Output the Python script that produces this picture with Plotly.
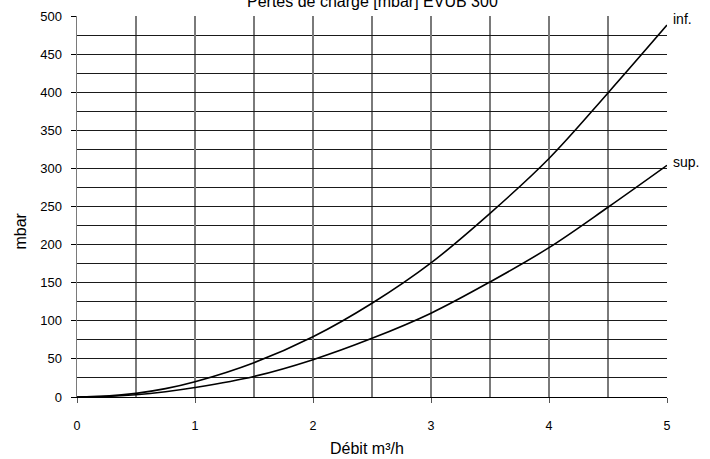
import plotly.graph_objects as go

flow = [0, 0.25, 0.5, 0.75, 1.0, 1.5, 2.0, 2.5, 3.0, 3.5, 4.0, 4.5, 5.0]
inf_mbar = [0, 1.2, 4.8, 11, 20, 45, 79, 123, 176, 241, 313, 399, 488]
sup_mbar = [0, 0.8, 3, 7, 12.5, 27, 49, 77, 110, 151, 196, 249, 304]

x_ticks = [0, 1, 2, 3, 4, 5]
y_ticks = [0, 50, 100, 150, 200, 250, 300, 350, 400, 450, 500]

FONT = "Liberation Sans, Arial, sans-serif"

fig = go.Figure()
fig.add_trace(go.Scatter(x=flow, y=inf_mbar, mode="lines", line=dict(color="black", width=1.6, shape="spline"), showlegend=False, hoverinfo="skip"))
fig.add_trace(go.Scatter(x=flow, y=sup_mbar, mode="lines", line=dict(color="black", width=1.6, shape="spline"), showlegend=False, hoverinfo="skip"))

fig.update_layout(
    width=710, height=459,
    margin=dict(l=77, r=43, t=16, b=62),
    paper_bgcolor="white", plot_bgcolor="white",
    font=dict(family=FONT, color="black", size=12),
    xaxis=dict(range=[0, 5], tickvals=x_ticks, ticks="outside", ticklen=5, tickcolor="#555",
               showgrid=True, gridcolor="#7a7a7a", gridwidth=1.5,
               minor=dict(dtick=0.5, showgrid=True, gridcolor="#7a7a7a", gridwidth=1.5),
               zeroline=False, showline=True, linecolor="black", linewidth=1, mirror=False,
               tickfont=dict(size=12.5), ticklabelstandoff=12, automargin=False),
    yaxis=dict(range=[0, 500], tickvals=y_ticks, ticks="outside", ticklen=5, tickcolor="black",
               showgrid=True, gridcolor="#1a1a1a", gridwidth=1,
               minor=dict(dtick=25, showgrid=True, gridcolor="#1a1a1a", gridwidth=1),
               zeroline=False, showline=True, linecolor="#7a7a7a", linewidth=1.5, mirror=False,
               tickfont=dict(size=13), ticklabelstandoff=6, automargin=False),
)

fig.add_annotation(text="Pertes de charge [mbar] EVUB 300", xref="paper", yref="paper",
                   x=0.5, y=1, yshift=15, xanchor="center", yanchor="middle",
                   showarrow=False, font=dict(size=16, family=FONT))
fig.add_annotation(text="mbar", xref="paper", yref="paper", x=0, y=0.5,
                   xshift=-57, yshift=-25, textangle=-90, xanchor="center", yanchor="middle",
                   showarrow=False, font=dict(size=16, family=FONT))
fig.add_annotation(text="Débit m³/h", xref="paper", yref="paper", x=0.5, y=0,
                   xshift=-5, yshift=-51, xanchor="center", yanchor="middle",
                   showarrow=False, font=dict(size=16, family=FONT))
fig.add_annotation(text="inf.", x=flow[-1], y=inf_mbar[-1], xanchor="left", yanchor="middle",
                   xshift=4, yshift=6, showarrow=False, font=dict(size=14, family=FONT))
fig.add_annotation(text="sup.", x=flow[-1], y=sup_mbar[-1], xanchor="left", yanchor="middle",
                   xshift=4, yshift=3, showarrow=False, font=dict(size=14, family=FONT))

fig.write_html("out.html", config={"displayModeBar": False, "staticPlot": True},
               post_script="document.body.style.margin='0';document.body.style.overflow='hidden';")
